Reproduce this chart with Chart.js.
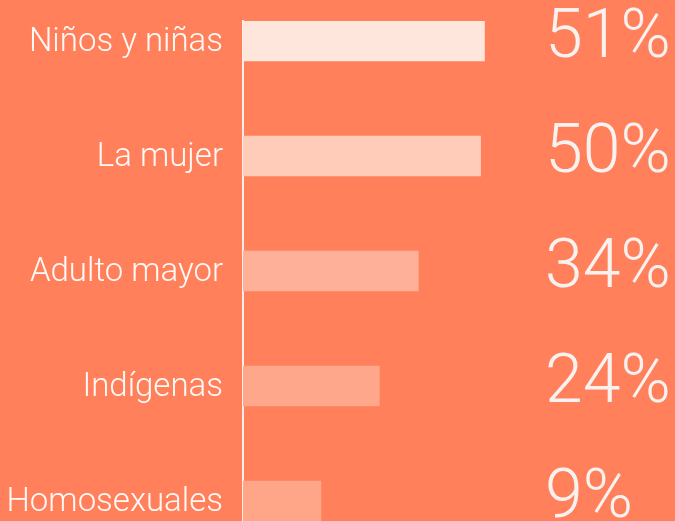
<!DOCTYPE html>
<html>
<head>
<meta charset="utf-8">
<script src="https://cdn.jsdelivr.net/npm/chart.js@4.4.1/dist/chart.umd.min.js"></script>
<style>
  html, body { margin: 0; padding: 0; background: #ff805b; overflow: hidden; }
  #wrap { width: 675px; height: 521px; position: relative; }
</style>
</head>
<body>
<div id="wrap"><canvas id="myChart"></canvas></div>
<script>
// ── data ──
const categories = ['Niños y niñas', 'La mujer', 'Adulto mayor', 'Indígenas', 'Homosexuales'];
const values = [51, 50, 34, 24, 9];
const pctLabels = ['51%', '50%', '34%', '24%', '9%'];
const barColors = ['#ffe6dc', '#ffccba', '#ffb099', '#ffa78a', '#ffa588'];

// bars in the picture start a bit left of zero
const xMin = -11, xMax = 59.6;
const yMin = -0.174, yMax = 4.174;

const noPad = s => { s.paddingTop = 0; s.paddingBottom = 0; };
const pick = arr => v => (Math.abs(v - Math.round(v)) < 1e-6 ? arr[Math.round(v)] ?? '' : '');

const ctx = document.getElementById('myChart').getContext('2d');
const chart = new Chart(ctx, {
    type: 'bar',
    data: {
        datasets: [{
            data: values.map((v, i) => ({ x: v, y: i })),
            backgroundColor: barColors,
            borderWidth: 0,
            barThickness: 40,
            base: xMin
        }]
    },
    options: {
        indexAxis: 'y',
        responsive: true,
        maintainAspectRatio: false,
        animation: false,
        layout: { padding: { top: 21, right: 0, bottom: 0, left: 0 } },
        plugins: { legend: { display: false }, tooltip: { enabled: false } },
        scales: {
            x: { type: 'linear', min: xMin, max: xMax, display: false },
            y: {
                type: 'linear', position: 'left', reverse: true, min: yMin, max: yMax,
                offset: false,
                grid: { color: 'transparent', drawTicks: false, offset: false },
                border: { display: true, color: '#ffeee6', width: 2 },
                ticks: {
                    stepSize: 1, includeBounds: false, autoSkip: false, padding: 20, labelOffset: 2,
                    color: '#fffaf7',
                    font: { family: 'Roboto', size: 33, weight: '300' },
                    callback: pick(categories)
                },
                afterFit: s => { s.width = 243; noPad(s); }
            },
            y2: {
                type: 'linear', position: 'right', reverse: true, min: yMin, max: yMax,
                offset: false,
                grid: { display: false, drawTicks: false, offset: false },
                border: { display: false },
                ticks: {
                    stepSize: 1, includeBounds: false, autoSkip: false, padding: 27, labelOffset: -1,
                    crossAlign: 'near',
                    color: '#f7f2f0',
                    font: { family: 'Roboto', size: 68, weight: '300' },
                    callback: pick(pctLabels)
                },
                afterFit: s => { s.width = 157; noPad(s); }
            }
        }
    }
});
</script>
</body>
</html>
